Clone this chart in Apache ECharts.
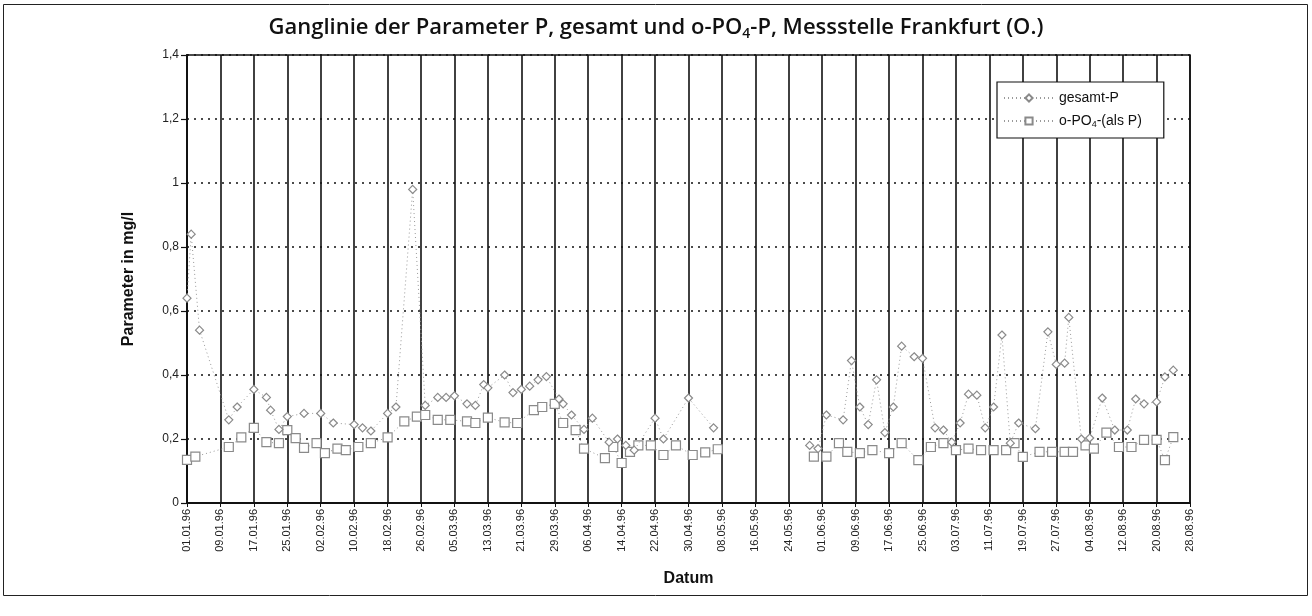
<!DOCTYPE html>
<html>
<head>
<meta charset="utf-8">
<script src="https://cdn.jsdelivr.net/npm/echarts@6/dist/echarts.min.js"></script>
<style>
  html, body { margin: 0; padding: 0; background: #fff; }
  #chart { width: 1312px; height: 616px; }
</style>
</head>
<body>
<div id="chart"></div>
<script>
// Sampling dates (DD.MM, 1996) and measured concentrations in mg/l
const gesamtDates = [
  '01.01','02.01','04.01','11.01','13.01','17.01','20.01','21.01','23.01','25.01',
  '29.01','02.02','05.02','10.02','12.02','14.02','18.02','20.02','24.02','27.02',
  '01.03','03.03','05.03','08.03','10.03','12.03','13.03','17.03','19.03','21.03',
  '23.03','25.03','27.03','30.03','31.03','02.04','05.04','07.04','11.04','13.04',
  '15.04','17.04','22.04','24.04','30.04','06.05',
  '29.05','31.05','02.06','06.06','08.06','10.06','12.06','14.06','16.06','18.06',
  '20.06','23.06','25.06','28.06','30.06','02.07','04.07','06.07','08.07','10.07',
  '12.07','14.07','16.07','18.07','22.07','25.07','27.07','29.07','30.07','02.08',
  '04.08','07.08','10.08','13.08','15.08','17.08','20.08','22.08','24.08'
];
const gesamtValues = [
  0.64, 0.84, 0.54, 0.26, 0.30, 0.355, 0.33, 0.29, 0.23, 0.27,
  0.28, 0.28, 0.25, 0.245, 0.235, 0.225, 0.28, 0.30, 0.98, 0.305,
  0.33, 0.33, 0.335, 0.31, 0.305, 0.37, 0.36, 0.40, 0.345, 0.355,
  0.365, 0.385, 0.395, 0.325, 0.31, 0.275, 0.23, 0.265, 0.19, 0.20,
  0.18, 0.165, 0.265, 0.20, 0.328, 0.235,
  0.18, 0.17, 0.275, 0.26, 0.445, 0.30, 0.245, 0.385, 0.22, 0.30,
  0.49, 0.457, 0.452, 0.235, 0.228, 0.19, 0.25, 0.34, 0.337, 0.235,
  0.30, 0.525, 0.187, 0.25, 0.232, 0.535, 0.433, 0.437, 0.58, 0.20,
  0.203, 0.328, 0.228, 0.228, 0.325, 0.31, 0.316, 0.394, 0.415
];

const orthoDates = [
  '01.01','03.01','11.01','14.01','17.01','20.01','23.01','25.01','27.01','29.01',
  '01.02','03.02','06.02','08.02','11.02','14.02','18.02','22.02','25.02','27.02',
  '01.03','04.03','08.03','10.03','13.03','17.03','20.03','24.03','26.03','29.03',
  '31.03','03.04','05.04','10.04','12.04','14.04','16.04','18.04','21.04','24.04',
  '27.04','01.05','04.05','07.05',
  '30.05','02.06','05.06','07.06','10.06','13.06','17.06','20.06','24.06','27.06',
  '30.06','03.07','06.07','09.07','12.07','15.07','17.07','19.07','23.07','26.07',
  '29.07','31.07','03.08','05.08','08.08','11.08','14.08','17.08','20.08','22.08',
  '24.08'
];
const orthoValues = [
  0.135, 0.145, 0.175, 0.205, 0.235, 0.19, 0.187, 0.228, 0.203, 0.172,
  0.187, 0.156, 0.17, 0.165, 0.175, 0.187, 0.205, 0.255, 0.27, 0.275,
  0.26, 0.26, 0.255, 0.25, 0.267, 0.252, 0.25, 0.29, 0.30, 0.31,
  0.25, 0.228, 0.17, 0.14, 0.175, 0.125, 0.16, 0.18, 0.18, 0.15,
  0.18, 0.15, 0.158, 0.168,
  0.145, 0.145, 0.187, 0.16, 0.156, 0.165, 0.156, 0.187, 0.134, 0.175,
  0.187, 0.165, 0.17, 0.165, 0.165, 0.165, 0.187, 0.144, 0.16, 0.16,
  0.16, 0.16, 0.18, 0.17, 0.22, 0.175, 0.175, 0.197, 0.197, 0.134,
  0.206
];

// Date axis labels, one every 8 days
const tickLabels = [
  '01.01.96','09.01.96','17.01.96','25.01.96','02.02.96','10.02.96','18.02.96',
  '26.02.96','05.03.96','13.03.96','21.03.96','29.03.96','06.04.96','14.04.96',
  '22.04.96','30.04.96','08.05.96','16.05.96','24.05.96','01.06.96','09.06.96',
  '17.06.96','25.06.96','03.07.96','11.07.96','19.07.96','27.07.96','04.08.96',
  '12.08.96','20.08.96','28.08.96'
];
const yTicks = [0, 0.2, 0.4, 0.6, 0.8, 1, 1.2, 1.4];

// Day of year (0 = 1 January) for a 'DD.MM' string in the leap year 1996
const monthStart = [0, 31, 60, 91, 121, 152, 182, 213, 244];
function dayOf(s) {
  const [d, m] = s.split('.').map(Number);
  return monthStart[m - 1] + d - 1;
}

// Pairs [day, value]; a break is inserted where sampling pauses for weeks
function buildSeries(dates, values) {
  const out = [];
  for (let i = 0; i < dates.length; i++) {
    const x = dayOf(dates[i]);
    if (i > 0 && x - dayOf(dates[i - 1]) > 14) out.push([x - 1, '-']);
    out.push([x, values[i]]);
  }
  return out;
}

const chart = echarts.init(document.getElementById('chart'), null, { renderer: 'canvas' });

const markerGrey = '#8a8a8a';

chart.setOption({
  backgroundColor: '#fff',
  animation: false,
  title: {
    text: 'Ganglinie der Parameter P, gesamt und {t|o-PO}{s|4}{t|-P, Messstelle Frankfurt (O.)}',
    left: 'center',
    top: 10,
    textStyle: {
      fontFamily: 'Open Sans',
      fontSize: 22,
      fontWeight: 600,
      color: '#111',
      rich: {
        t: { fontFamily: 'Open Sans', fontSize: 22, fontWeight: 600, color: '#111' },
        s: { fontFamily: 'Open Sans', fontSize: 14, fontWeight: 600, color: '#111', padding: [12, 0, 0, 0] }
      }
    }
  },
  legend: {
    orient: 'vertical',
    left: 997,
    top: 82,
    padding: [9, 22, 9, 6],
    itemGap: 9,
    itemWidth: 50,
    itemHeight: 9,
    backgroundColor: '#fff',
    borderColor: '#111',
    borderWidth: 1.2,
    textStyle: {
      fontFamily: 'Liberation Sans',
      fontSize: 14,
      color: '#111',
      rich: {
        a: { fontFamily: 'Liberation Sans', fontSize: 14, color: '#111' },
        s: { fontFamily: 'Liberation Sans', fontSize: 9, color: '#111', padding: [7, 0, 0, 0] }
      }
    },
    formatter: function (name) {
      if (name === 'o-PO4-(als P)') return '{a|o-PO}{s|4}{a|-(als P)}';
      return name;
    },
    data: ['gesamt-P', 'o-PO4-(als P)']
  },
  grid: {
    left: 187,
    right: 122,
    top: 55,
    bottom: 113,
    show: true,
    borderColor: '#111',
    borderWidth: 1.5,
    backgroundColor: '#fff'
  },
  xAxis: {
    type: 'value',
    min: 0,
    max: 240,
    interval: 8,
    name: 'Datum',
    nameLocation: 'middle',
    nameGap: 68,
    nameTextStyle: { fontFamily: 'Liberation Sans', fontSize: 16, fontWeight: 'bold', color: '#111' },
    axisLine: { show: true, lineStyle: { color: '#111', width: 2 } },
    axisTick: { show: true, length: 4, lineStyle: { color: '#111', width: 1 } },
    axisLabel: {
      rotate: 90,
      margin: 6,
      fontFamily: 'Liberation Sans Narrow, Liberation Sans',
      fontSize: 11,
      color: '#222',
      formatter: function (v) { return tickLabels[Math.round(v / 8)] || ''; }
    },
    splitLine: { show: true, lineStyle: { color: '#111', width: 1.6 } }
  },
  yAxis: {
    type: 'value',
    min: 0,
    max: 1.4,
    interval: 0.2,
    name: 'Parameter in mg/l',
    nameLocation: 'middle',
    nameGap: 50,
    nameTextStyle: { fontFamily: 'Liberation Sans', fontSize: 16, fontWeight: 'bold', color: '#111' },
    axisLine: { show: true, lineStyle: { color: '#111', width: 2 } },
    axisTick: { show: true, length: 6, lineStyle: { color: '#111', width: 1.2 } },
    axisLabel: {
      margin: 8,
      fontFamily: 'Liberation Sans',
      fontSize: 12,
      color: '#222',
      formatter: function (v) {
        const t = yTicks.find(function (k) { return Math.abs(k - v) < 1e-6; });
        return t === undefined ? '' : String(t).replace('.', ',');
      }
    },
    splitLine: { show: true, lineStyle: { color: '#111', width: 1.6, type: [2, 5] } }
  },
  series: [
    {
      name: 'gesamt-P',
      type: 'line',
      data: buildSeries(gesamtDates, gesamtValues),
      connectNulls: false,
      symbol: 'diamond',
      symbolSize: 8,
      showAllSymbol: true,
      lineStyle: { color: '#9a9a9a', width: 1, type: [1, 3] },
      itemStyle: { color: '#ffffff', borderColor: markerGrey, borderWidth: 1.2 },
      z: 3
    },
    {
      name: 'o-PO4-(als P)',
      type: 'line',
      data: buildSeries(orthoDates, orthoValues),
      connectNulls: false,
      symbol: 'rect',
      symbolSize: 9,
      showAllSymbol: true,
      lineStyle: { color: '#9a9a9a', width: 1, type: [1, 3] },
      itemStyle: { color: '#ffffff', borderColor: markerGrey, borderWidth: 1.2 },
      z: 2
    }
  ],
  graphic: [
    {
      type: 'rect',
      shape: { x: 3.5, y: 4.5, width: 1304, height: 591 },
      style: { fill: null, stroke: '#222', lineWidth: 1 },
      silent: true,
      z: -10
    }
  ]
});
</script>
</body>
</html>
